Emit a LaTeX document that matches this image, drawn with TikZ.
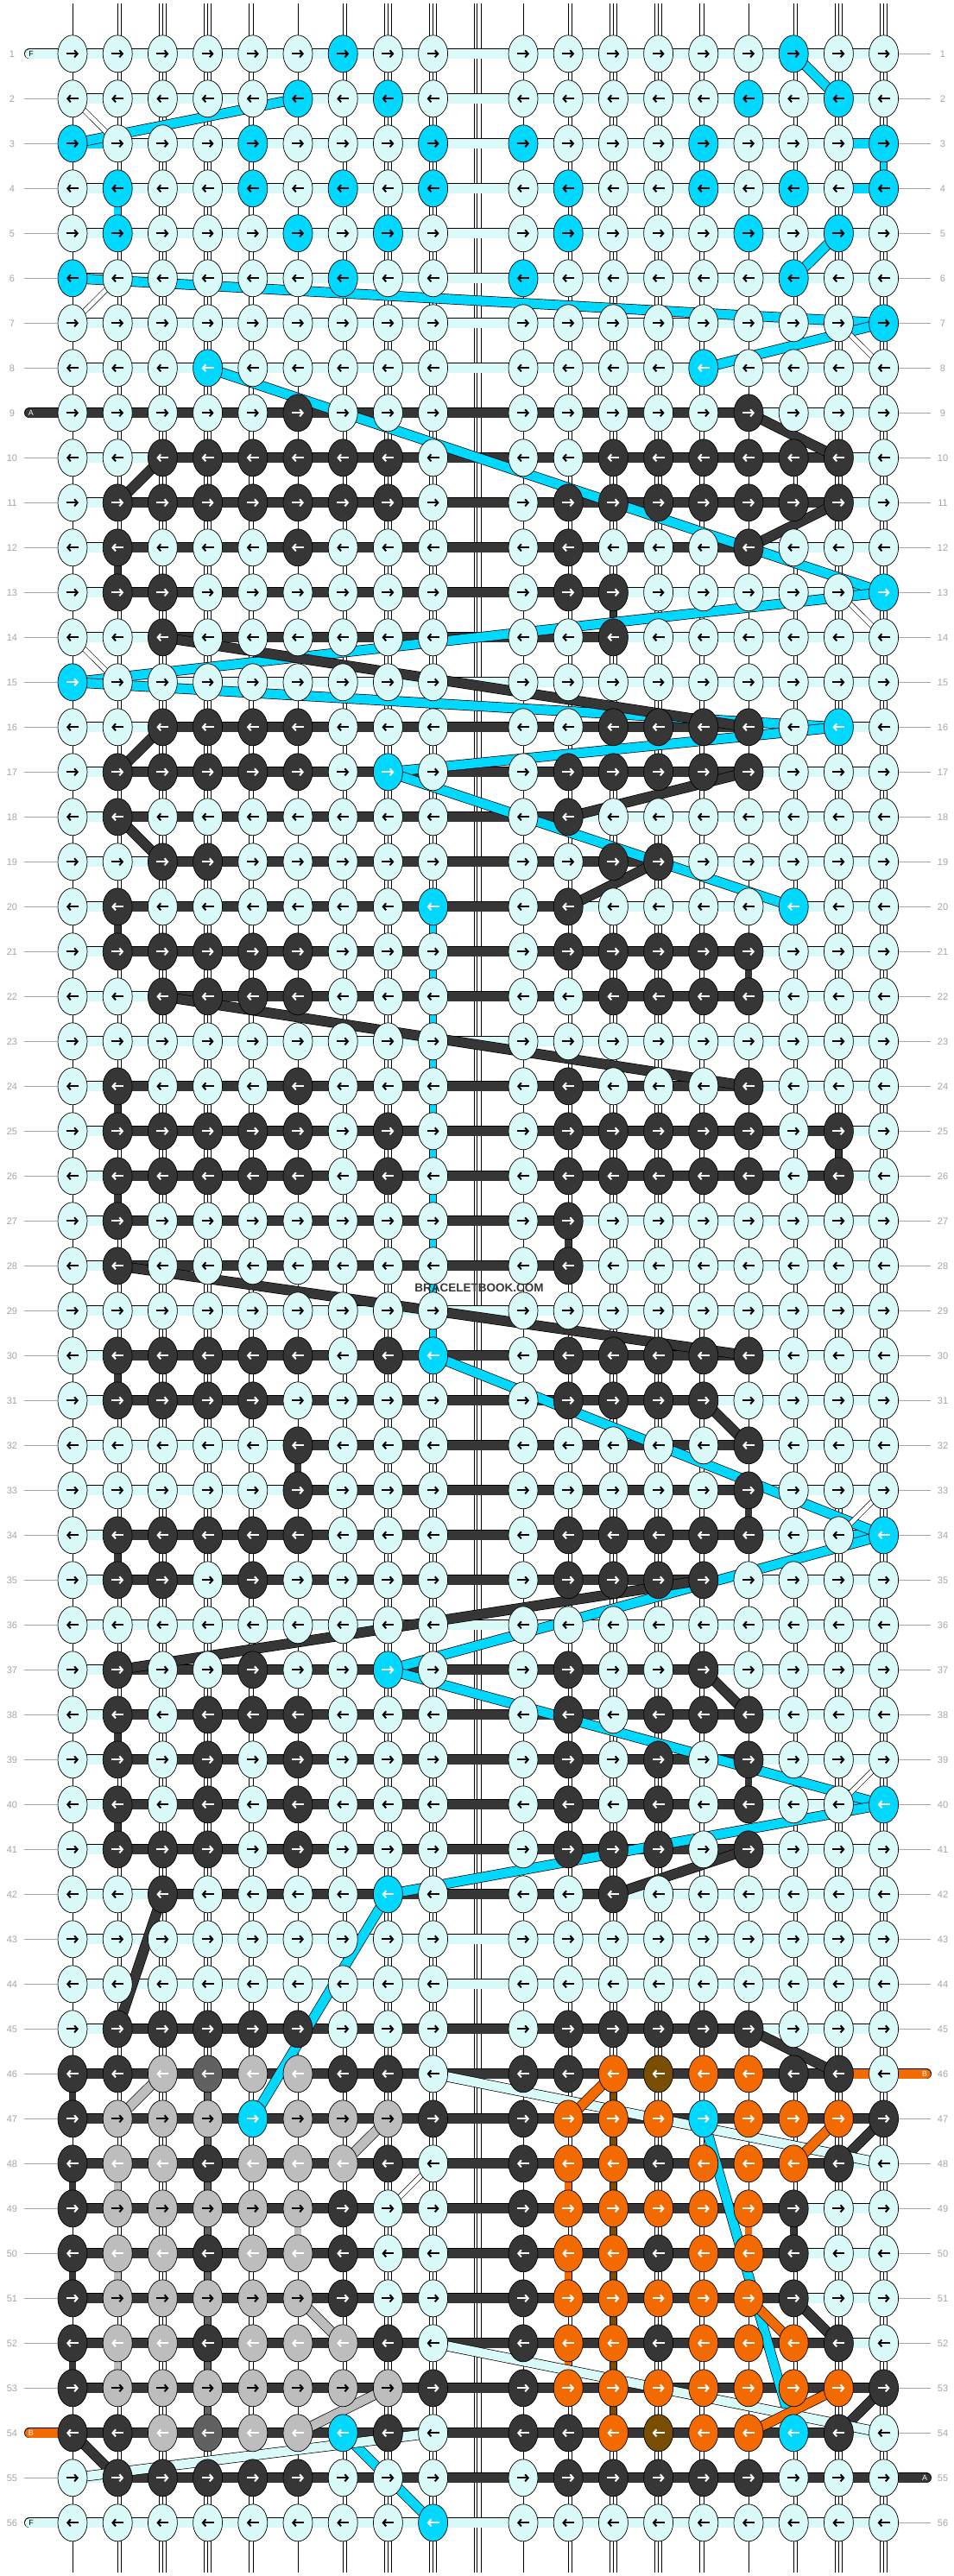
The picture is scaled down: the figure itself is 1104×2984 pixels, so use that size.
\documentclass[tikz,border=0pt]{standalone}
\usepackage{fontspec}
\setmainfont{Liberation Sans}
\usetikzlibrary{shapes.geometric,arrows.meta}

\definecolor{colL}{RGB}{218,250,250}
\definecolor{colC}{RGB}{0,216,255}
\definecolor{colD}{RGB}{54,54,54}
\definecolor{colG}{RGB}{189,189,189}
\definecolor{colM}{RGB}{97,97,97}
\definecolor{colO}{RGB}{242,106,0}
\definecolor{colB}{RGB}{122,78,2}
\definecolor{labgrey}{RGB}{165,165,165}

\pgfdeclarelayer{strings}
\pgfdeclarelayer{bands}
\pgfdeclarelayer{diags}
\pgfsetlayers{strings,bands,diags,main}

\tikzset{
    %Define style for knots
    knot/.style={
           ellipse,
           draw=black, line width=.7pt,
           minimum width=34pt,
           minimum height=43pt,
           inner sep=0pt},
    % Define arrow style inside a knot
    knotarrow/.style={
           line width=2pt,
           -{Straight Barb[length=3.5pt,width=8pt]}},
    % Define thread styles
    band/.style={line width=.7pt, double=#1, double distance=10.5pt},
    vband/.style={line width=.7pt, double=#1, double distance=7.5pt},
    pair/.style={line width=.6pt, double=white, double distance=7.5pt},
    thinpair/.style={line width=.6pt, double=white, double distance=5pt},
    midstring/.style={line width=.6pt, double=white, double distance=2.6pt},
    % Define label styles
    rowlab/.style={
           text=labgrey,
           font=\fontsize{11}{11}\selectfont,
           minimum width=24pt,
           inner sep=0pt},
    labline/.style={draw=labgrey, line width=.8pt},
    tag/.style={font=\fontsize{9}{9}\selectfont, inner sep=0pt}
}

\newcount\kc
\newcommand\placeknot[1]{%
  \ifnum\kc<9 \pgfmathsetmacro\kx{84+52.2*\kc}\else\pgfmathsetmacro\kx{84+52.2*(\kc+1)}\fi
  \pgfmathsetmacro\ky{62.3+52*(\krow-1)}%
  \node[knot, fill=col#1] (k\krow-\the\kc) at (\kx,\ky) {};
  \def\arrcol{black}%
  \if D#1\def\arrcol{white}\fi
  \if M#1\def\arrcol{white}\fi
  \if O#1\def\arrcol{white}\fi
  \if B#1\def\arrcol{white}\fi
  \if G#1\ifodd\krow\relax\else\def\arrcol{white}\fi\fi
  \if C#1\ifnum\krow>7 \def\arrcol{white}\fi\fi
  \ifodd\krow\relax
    \draw[knotarrow, \arrcol] ([xshift=-7pt]k\krow-\the\kc.center) -- ([xshift=7pt]k\krow-\the\kc.center);
  \else
    \draw[knotarrow, \arrcol] ([xshift=7pt]k\krow-\the\kc.center) -- ([xshift=-7pt]k\krow-\the\kc.center);
  \fi}
\def\knotloop#1{\ifx\relax#1\else\ifx|#1\else\placeknot{#1}\global\advance\kc by 1 \fi\expandafter\knotloop\fi}

% row: number, knot colours, first and last dark segment
\newcommand\patrow[4]{%
  \def\krow{#1}\global\kc=0 \knotloop#2\relax
  \begin{pgfonlayer}{bands}
    \foreach \s [evaluate=\s as \snext using int(\s+1)] in {0,...,16}{%
      \def\segcol{colL}%
      \ifnum\s<#3 \else\ifnum\s>#4 \else\def\segcol{colD}\fi\fi
      \draw[band=\segcol] (k#1-\s.center) -- (k#1-\snext.center);}
  \end{pgfonlayer}}

\begin{document}
\begin{tikzpicture}[x=1pt, y=-1pt]
\useasboundingbox (0,0) rectangle (1104,2984);
\begin{pgfonlayer}{strings}
  \fill[white] (0,0) rectangle (1104,2984);
\end{pgfonlayer}

\patrow{1}{LLLLLLCLL|LLLLLLCLL}{99}{99}
\patrow{2}{LLLLLCLCL|LLLLLCLCL}{99}{99}
\patrow{3}{CLLLCLLLC|CLLLCLLLC}{99}{99}
\patrow{4}{LCLLCLCLC|LCLLCLCLC}{99}{99}
\patrow{5}{LCLLLCLCL|LCLLLCLCL}{99}{99}
\patrow{6}{CLLLLLCLL|CLLLLLCLL}{99}{99}
\patrow{7}{LLLLLLLLL|LLLLLLLLC}{99}{99}
\patrow{8}{LLLCLLLLL|LLLLCLLLL}{99}{99}
\patrow{9}{LLLLLDLLL|LLLLLDLLL}{0}{13}
\patrow{10}{LLDDDDDDL|LLDDDDDDL}{2}{15}
\patrow{11}{LDDDDDDDL|LDDDDDDDL}{1}{15}
\patrow{12}{LDLLLDLLL|LDLLLDLLL}{1}{13}
\patrow{13}{LDDLLLLLL|LDDLLLLLC}{1}{10}
\patrow{14}{LLDLLLLLL|LLDLLLLLL}{2}{10}
\patrow{15}{CLLLLLLLL|LLLLLLLLL}{99}{99}
\patrow{16}{LLDDDDLLL|LLDDDDLCL}{2}{13}
\patrow{17}{LDDDDDLCL|LDDDDDLLL}{1}{13}
\patrow{18}{LDLLLLLLL|LDLLLLLLL}{1}{9}
\patrow{19}{LLDDLLLLL|LLDDLLLLL}{2}{11}
\patrow{20}{LDLLLLLLC|LDLLLLCLL}{1}{9}
\patrow{21}{LDDDDDLLL|LDDDDDLLL}{1}{13}
\patrow{22}{LLDDDDLLL|LLDDDDLLL}{2}{13}
\patrow{23}{LLLLLLLLL|LLLLLLLLL}{99}{99}
\patrow{24}{LDLLLDLLL|LDLLLDLLL}{1}{13}
\patrow{25}{LDDDDDLDL|LDDDDDLDL}{1}{15}
\patrow{26}{LDDDDDLDL|LDDDDDLDL}{1}{15}
\patrow{27}{LDLLLLLLL|LDLLLLLLL}{1}{9}
\patrow{28}{LDLLLLLLL|LDLLLLLLL}{1}{9}
\patrow{29}{LLLLLLLLL|LLLLLLLLL}{99}{99}
\patrow{30}{LDDDDDLDC|LDDDDDLLL}{1}{13}
\patrow{31}{LDDDDLLLL|LDDDDLLLL}{1}{12}
\patrow{32}{LLLLLDLLL|LLLLLDLLL}{5}{13}
\patrow{33}{LLLLLDLLL|LLLLLDLLL}{5}{13}
\patrow{34}{LDDDDDLLL|LDDDDDLLC}{1}{13}
\patrow{35}{LDDLDLLLL|LDDDDLLLL}{1}{12}
\patrow{36}{LLLLLLLLL|LLLLLLLLL}{99}{99}
\patrow{37}{LDLLDLLCL|LDLLDLLLL}{1}{12}
\patrow{38}{LDLDDDLLL|LDLDDDLLL}{1}{13}
\patrow{39}{LDLDLDLLL|LDLDLDLLL}{1}{13}
\patrow{40}{LDLDLDLLL|LDLDLDLLC}{1}{13}
\patrow{41}{LDDDLDLLL|LDDDLDLLL}{1}{13}
\patrow{42}{LLDLLLLCL|LLDLLLLLL}{2}{10}
\patrow{43}{LLLLLLLLL|LLLLLLLLL}{99}{99}
\patrow{44}{LLLLLLLLL|LLLLLLLLL}{99}{99}
\patrow{45}{LDDDDDLLL|LDDDDDLLL}{1}{13}
\patrow{46}{DDGMGGDDL|DDOBOODDL}{0}{15}
\patrow{47}{DGGGCGGGD|DOOOCOOOD}{0}{16}
\patrow{48}{DGGDGGGDL|DOODOOODL}{0}{15}
\patrow{49}{DGGGGGDLL|DOOOOODLL}{0}{14}
\patrow{50}{DGGDGGDLL|DOODOODLL}{0}{14}
\patrow{51}{DGGGGGDLL|DOOOOODLL}{0}{14}
\patrow{52}{DGGDGGGDL|DOODOOODL}{0}{15}
\patrow{53}{DGGGGGGGD|DOOOOOOOD}{0}{16}
\patrow{54}{DDGMGGCDL|DDOBOOCDL}{0}{15}
\patrow{55}{LDDDDDLLL|LDDDDDLLL}{1}{16}
\patrow{56}{LLLLLLLLC|LLLLLLLLL}{99}{99}

% vertical strings
\begin{pgfonlayer}{strings}
  \foreach \c in {0,...,17}{
    \draw[pair, shorten <=-58pt, shorten >=-58pt] (k1-\c.center) -- (k56-\c.center);
    \draw[line width=.5pt, shorten <=-58pt, shorten >=-58pt] (k1-\c.center) -- (k56-\c.center);
  }
  \coordinate (mtop) at (555,4);
  \coordinate (mbot) at (555,2980);
  \draw[midstring] ([xshift=-4.2pt]mtop) -- ([xshift=-4.2pt]mbot);
  \draw[midstring] ([xshift=4.2pt]mtop) -- ([xshift=4.2pt]mbot);
  \foreach \r/\c/\bc in {3/17/colC, 4/1/colC, 20/8/colC, 21/8/colC, 22/8/colC,
      23/8/colC, 24/8/colC, 25/8/colC, 26/8/colC, 27/8/colC, 28/8/colC, 29/8/colC,
      12/1/colD, 13/11/colD, 20/1/colD, 21/14/colD, 24/1/colD, 25/16/colD,
      26/1/colD, 27/10/colD, 30/1/colD, 32/5/colD, 33/14/colD, 34/1/colD,
      38/1/colD, 39/14/colD, 40/1/colD, 46/0/colD, 48/0/colD, 49/15/colD,
      50/0/colD, 52/0/colD, 48/1/colG, 49/5/colG, 50/1/colG, 52/1/colG,
      48/10/colO, 49/14/colO, 50/10/colO, 52/10/colO}{
    \pgfmathtruncatemacro\rn{\r+1}
    \draw[vband=\bc] (k\r-\c.center) -- (k\rn-\c.center);
  }
  \foreach \r in {46,...,53}{
    \pgfmathtruncatemacro\rn{\r+1}
    \draw[vband=colM] (k\r-3.center) -- (k\rn-3.center);
    \draw[vband=colB] (k\r-11.center) -- (k\rn-11.center);
  }
\end{pgfonlayer}

% segment colour changes and end stubs
\begin{pgfonlayer}{bands}
  \foreach \r/\s/\bc in {3/0/colC, 3/16/colC, 4/16/colC, 7/16/colC, 13/16/colC,
      34/16/colC, 40/16/colC, 46/16/colO}{
    \pgfmathtruncatemacro\sn{\s+1}
    \draw[band=\bc] (k\r-\s.center) -- (k\r-\sn.center);
  }
  \foreach \r/\bc in {1/colL, 9/colD, 54/colO, 56/colL}{
    \coordinate (sl\r) at (34,{62.3+52*(\r-1)});
    \draw[band=\bc, line cap=round] (k\r-0.center) -- (sl\r);
  }
  \foreach \r/\bc in {46/colO, 55/colD}{
    \coordinate (sr\r) at (1073,{62.3+52*(\r-1)});
    \draw[band=\bc, line cap=round] (k\r-17.center) -- (sr\r);
  }
\end{pgfonlayer}

% carried threads
\begin{pgfonlayer}{diags}
  \foreach \a/\b in {1-15/2-16, 2-5/3-0, 5-16/6-15, 6-0/7-17, 7-17/8-13, 8-3/13-17,
      13-17/15-0, 15-0/16-16, 17-7/16-16, 17-7/20-15, 30-8/34-17, 34-17/37-7,
      37-7/40-17, 40-17/42-7, 42-7/47-4, 47-13/54-15, 54-6/56-8}
    \draw[band=colC] (k\a.center) -- (k\b.center);
  \foreach \a/\b in {9-14/10-16, 10-2/11-1, 11-16/12-14, 14-2/16-14, 16-2/17-1,
      17-14/18-10, 18-1/19-2, 19-12/20-10, 22-2/24-14, 28-1/30-14, 31-13/32-14,
      35-13/37-1, 37-13/38-14, 41-14/42-11, 42-2/45-1, 45-14/46-16, 47-17/48-16,
      51-15/52-16, 53-17/54-16, 54-0/55-1}
    \draw[band=colD] (k\a.center) -- (k\b.center);
  \foreach \a/\b in {46-8/48-17, 52-8/54-17, 54-8/55-0}
    \draw[band=colL] (k\a.center) -- (k\b.center);
  \foreach \a/\b in {46-2/47-1, 47-7/48-6, 51-5/52-6, 53-7/54-5}
    \draw[band=colG] (k\a.center) -- (k\b.center);
  \foreach \a/\b in {46-11/47-10, 47-16/48-15, 51-14/52-15, 53-16/54-14}
    \draw[band=colO] (k\a.center) -- (k\b.center);
  \foreach \a/\b in {2-0/3-1, 6-1/7-0, 7-16/8-17, 13-16/14-17, 14-0/15-1,
      33-17/34-16, 39-17/40-16, 48-8/49-7}
    \draw[thinpair] (k\a.center) -- (k\b.center);
\end{pgfonlayer}

% string letters
\foreach \r/\txt/\tc in {1/F/black, 9/A/white, 54/B/white, 56/F/black}
  \node[tag, text=\tc] (tl\r) at ([xshift=2pt]sl\r) {\txt};
\foreach \r/\txt in {46/B, 55/A}
  \node[tag, text=white] (tr\r) at ([xshift=-2pt]sr\r) {\txt};

% row numbers
\foreach \r in {1,...,56}{
  \node[rowlab] (ll\r) at (14,{62.3+52*(\r-1)}) {\r};
  \node[rowlab] (lr\r) at (1092,{62.3+52*(\r-1)}) {\r};
}
\foreach \r in {2,...,8} \draw[labline, shorten <=2pt] (ll\r.east) -- (k\r-0.west);
\foreach \r in {10,...,53} \draw[labline, shorten <=2pt] (ll\r.east) -- (k\r-0.west);
\draw[labline, shorten <=2pt] (ll55.east) -- (k55-0.west);
\foreach \r in {1,...,45} \draw[labline, shorten >=2pt] (k\r-17.east) -- (lr\r.west);
\foreach \r in {47,...,54} \draw[labline, shorten >=2pt] (k\r-17.east) -- (lr\r.west);
\draw[labline, shorten >=2pt] (k56-17.east) -- (lr56.west);

\node[font=\bfseries\fontsize{13.5}{13.5}\selectfont, text=colD] (wm) at (555,1492) {BRACELETBOOK.COM};

\end{tikzpicture}
\end{document}
